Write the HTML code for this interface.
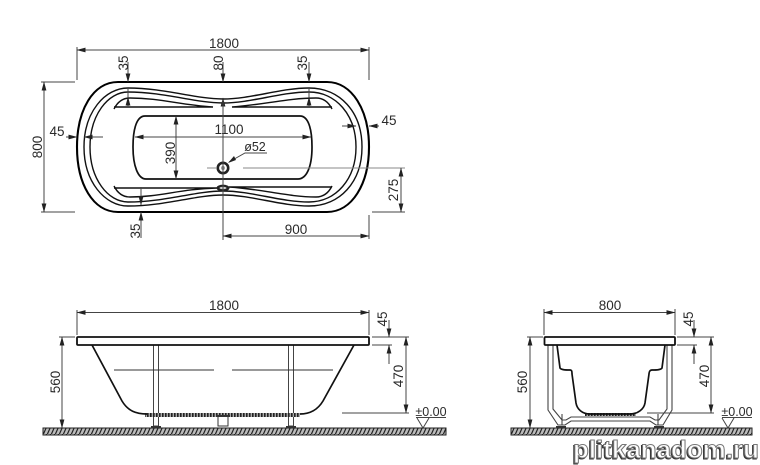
<!DOCTYPE html>
<html><head><meta charset="utf-8"><style>
html,body{margin:0;padding:0;background:#fff}
svg{display:block;filter:blur(.35px)}
text{font-family:"Liberation Sans",sans-serif;font-size:13.5px;fill:#2a2a2a;text-anchor:middle}
.d{stroke:#444;stroke-width:1;fill:none}
.t{stroke:#111;stroke-width:1.7;fill:none}
.m{stroke:#111;stroke-width:1.4;fill:none}
.o{stroke:#000;stroke-width:2.1;fill:none}
text.wm{font-weight:bold;font-size:25px;fill:#fff;stroke:#777;stroke-width:1;text-anchor:start}
text.ws{font-weight:bold;font-size:25px;fill:#333;stroke:#333;stroke-width:1;text-anchor:start}
</style></head><body>
<svg width="760" height="465" viewBox="0 0 760 465" xmlns="http://www.w3.org/2000/svg">
<defs>
<marker id="a" markerWidth="9" markerHeight="6" refX="8.5" refY="3" orient="auto-start-reverse" markerUnits="userSpaceOnUse"><path d="M0 .6L9 3L0 5.4z" fill="#222"/></marker>
<pattern id="h" width="4" height="7" patternUnits="userSpaceOnUse"><rect width="4" height="7" fill="#bbb"/><path d="M-1 8L3-1M3 8L7-1" stroke="#222" stroke-width="1.2"/></pattern>
<pattern id="b" width="3" height="4" patternUnits="userSpaceOnUse"><rect width="3" height="4" fill="#aaa"/><rect width="1.6" height="4" fill="#222"/></pattern>
</defs>

<!-- TOP VIEW -->
<path class="o" d="M118 82H327C352 82 369 110 369 147C369 184 352 212 327 212H118C93 212 77 184 77 147C77 110 93 82 118 82Z"/>
<path class="m" d="M128 88C105 88 84 112 84 147C84 182 105 206 128 206C165 206 195 195 223 195C251 195 281 206 309 206C340 206 362 182 362 147C362 112 340 88 309 88C281 88 251 99 223 99C195 99 165 88 128 88Z"/>
<path class="m" d="M128 92C108 92 90 115 90 147C90 179 108 202 128 202C165 202 195 191 223 191C251 191 281 202 309 202C336 202 356 179 356 147C356 115 336 92 309 92C281 92 251 103 223 103C195 103 165 92 128 92Z"/>
<path class="m" d="M114 109C118 101 124 98 130 98C160 98 180 105 213 107H114"/>
<path class="m" d="M332 109C328 101 322 98 316 98C288 98 262 105 232 107H332"/>
<path class="m" d="M114 186C118 194 124 197 130 197C160 197 180 189 217 188H114"/>
<path class="m" d="M332 186C328 194 322 197 316 197C288 197 262 189 229 187H332"/>
<path class="t" d="M145 116H300C308 116 312 128 312 147C312 168 306 179 298 179H146C138 179 133 166 133 147C133 128 137 116 145 116Z"/>

<!-- drain -->
<circle cx="223" cy="168" r="5.2" fill="none" stroke="#222" stroke-width="2.6"/>
<circle cx="223" cy="168" r="2" fill="#999"/>
<ellipse cx="223" cy="188" rx="6.5" ry="3.4" fill="#222"/>
<ellipse cx="223" cy="188" rx="3.5" ry="1.3" fill="#ccc"/>
<path class="d" d="M229 162L245 153H267"/>
<path d="M228 163L234 156L236 160z" fill="#222"/>
<text x="255" y="151" style="font-size:12.5px">ø52</text>

<!-- top dims -->
<path class="d" d="M77 80V47M369 80V47" />
<path class="d" d="M77 50H369" marker-start="url(#a)" marker-end="url(#a)"/>
<text x="224" y="48">1800</text>
<path class="d" d="M41 82H75M41 212H75"/>
<path class="d" d="M44 82V212" marker-start="url(#a)" marker-end="url(#a)"/>
<text transform="translate(42,147) rotate(-90)">800</text>
<path class="d" d="M128 62V82" marker-end="url(#a)"/>
<path class="d" d="M128 88V107"/>
<path class="d" d="M128 107V97" marker-end="url(#a)"/>
<text transform="translate(128,63) rotate(-90)">35</text>
<path class="d" d="M223 62V82" marker-end="url(#a)"/>
<path class="d" d="M223 116V98" marker-end="url(#a)"/>
<text transform="translate(223,63) rotate(-90)">80</text>
<path class="d" d="M309 62V82" marker-end="url(#a)"/>
<path class="d" d="M309 88V107"/>
<path class="d" d="M309 107V97" marker-end="url(#a)"/>
<text transform="translate(307,63) rotate(-90)">35</text>
<path class="d" d="M66 137H77" marker-end="url(#a)"/>
<path class="d" d="M103 137H84" marker-end="url(#a)"/>
<text x="57" y="136">45</text>
<path class="d" d="M342 126H356" marker-end="url(#a)"/>
<path class="d" d="M379 126H369" marker-end="url(#a)"/>
<text x="389" y="125">45</text>
<path class="d" d="M135 137H311" marker-start="url(#a)" marker-end="url(#a)"/>
<text x="229" y="134">1100</text>
<path class="d" d="M176 116V179" marker-start="url(#a)" marker-end="url(#a)"/>
<text transform="translate(175,153) rotate(-90)">390</text>
<path class="d" d="M223 100V240"/>
<path d="M207 168H217M243 168H405" stroke="#888" stroke-width="1" fill="none"/>
<path class="d" d="M372 212H405"/>
<path class="d" d="M401 168V212" marker-start="url(#a)" marker-end="url(#a)"/>
<text transform="translate(398,190) rotate(-90)">275</text>
<path class="d" d="M369 215V239"/>
<path class="d" d="M223 236H369" marker-start="url(#a)" marker-end="url(#a)"/>
<text x="296" y="234">900</text>
<path class="d" d="M141 187V205" marker-end="url(#a)"/>
<path class="d" d="M141 238V212" marker-end="url(#a)"/>
<text transform="translate(140,231) rotate(-90)">35</text>

<!-- SIDE VIEW -->
<rect x="43" y="428" width="403" height="7" fill="url(#h)" stroke="#222" stroke-width="1"/>
<rect x="153.500" y="345" width="5" height="81" fill="#fff" stroke="#444" stroke-width="1"/>
<rect x="288.500" y="345" width="5" height="81" fill="#fff" stroke="#444" stroke-width="1"/>
<rect x="151" y="426" width="10" height="2" fill="#333"/>
<rect x="286" y="426" width="10" height="2" fill="#333"/>
<rect x="145" y="413" width="155" height="4" fill="url(#b)"/>
<path class="t" d="M92 345L122 401C128 411 136 414 147 414"/>
<path class="t" d="M354 345L323 401C317 411 309 414 300 414"/>
<rect x="77" y="337" width="292" height="8" rx="1" fill="#fff" stroke="#111" stroke-width="1.8"/>
<path d="M114 370H214M232 370H333" stroke="#333" stroke-width="1" fill="none"/>
<rect x="218" y="416" width="10" height="10" fill="#fff" stroke="#333" stroke-width="1"/>
<rect x="216" y="415" width="14" height="2" fill="#333"/>
<path class="d" d="M77 335V310M369 335V310"/>
<path class="d" d="M77 312.500H369" marker-start="url(#a)" marker-end="url(#a)"/>
<text x="224" y="310">1800</text>
<path class="d" d="M59 337H75"/>
<path class="d" d="M62 337V428" marker-start="url(#a)" marker-end="url(#a)"/>
<text transform="translate(60,382) rotate(-90)">560</text>
<path class="d" d="M372 337H409M372 345H392M342 413H409"/>
<path class="d" d="M389 320V337" marker-end="url(#a)"/>
<path class="d" d="M389 364V345" marker-end="url(#a)"/>
<text transform="translate(387,319) rotate(-90)">45</text>
<path class="d" d="M406 337V413" marker-start="url(#a)" marker-end="url(#a)"/>
<text transform="translate(403,376) rotate(-90)">470</text>
<text x="431" y="416" style="font-size:12.5px">±0.00</text>
<path class="d" d="M416 417.500H446"/>
<path class="d" d="M417 418L423 428L429 418"/>

<!-- FRONT VIEW -->
<rect x="511" y="428" width="241" height="7" fill="url(#h)" stroke="#222" stroke-width="1"/>
<path d="M548 345V410L558 425H565L571 421H650L656 425H663L672 410V345M553 345V409L562 420H566L571 417H650L655 420H659L667 409V345" stroke="#444" stroke-width="1.1" fill="none"/>
<path d="M562 414V425M658 414V425" stroke="#333" stroke-width="1" fill="none"/>
<rect x="556" y="426" width="10" height="2" fill="#333"/>
<rect x="654" y="426" width="10" height="2" fill="#333"/>
<rect x="585" y="413" width="51" height="3" fill="url(#b)"/>
<path class="t" d="M557 345L560 368C561 370 566 370 570 370C572 370 572 372 572 374L576 403C577 409 582 414 590 414H630C638 414 644 409 645 403L649 374C649 372 650 370 652 370C656 370 661 370 662 368L665 345"/>
<rect x="544.500" y="337" width="130.500" height="8" rx="1" fill="#fff" stroke="#111" stroke-width="1.8"/>
<path class="d" d="M544 335V309M675 335V309"/>
<path class="d" d="M544 312.500H675" marker-start="url(#a)" marker-end="url(#a)"/>
<text x="610" y="310">800</text>
<path class="d" d="M527 337H543"/>
<path class="d" d="M530 337V428" marker-start="url(#a)" marker-end="url(#a)"/>
<text transform="translate(527,382) rotate(-90)">560</text>
<path class="d" d="M677 337H714M677 345H697M647 413H714"/>
<path class="d" d="M694 320V337" marker-end="url(#a)"/>
<path class="d" d="M694 364V345" marker-end="url(#a)"/>
<text transform="translate(693,319) rotate(-90)">45</text>
<path class="d" d="M711 337V413" marker-start="url(#a)" marker-end="url(#a)"/>
<text transform="translate(709,376) rotate(-90)">470</text>
<text x="737" y="416" style="font-size:12.5px">±0.00</text>
<path class="d" d="M722 417.500H752"/>
<path class="d" d="M722 418L728 428L734 418"/>

<!-- watermark -->
<text class="ws" x="572" y="459" textLength="186" lengthAdjust="spacingAndGlyphs">plitkanadom.ru</text>
<text class="wm" x="573" y="458" textLength="186" lengthAdjust="spacingAndGlyphs">plitkanadom.ru</text>
</svg>
</body></html>
